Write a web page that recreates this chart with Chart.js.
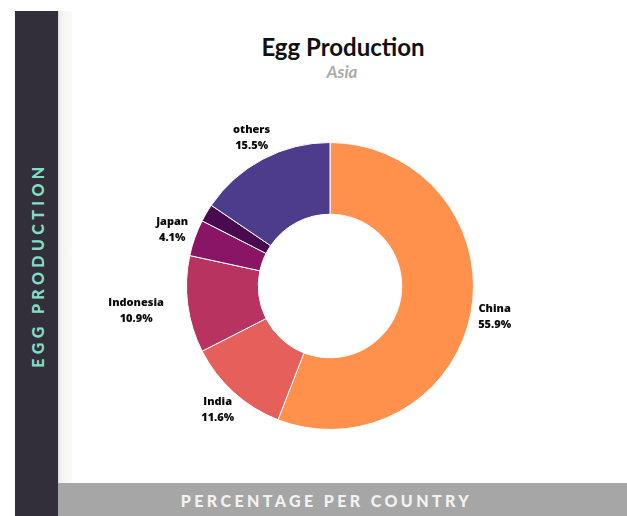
<!DOCTYPE html>
<html>
<head>
<meta charset="utf-8">
<script src="https://cdn.jsdelivr.net/npm/chart.js@4/dist/chart.umd.min.js"></script>
<style>
  html, body { margin: 0; padding: 0; background: #fff; }
  body { width: 627px; height: 516px; position: relative; overflow: hidden; font-family: "Lato", sans-serif; }
  .side { position: absolute; left: 15px; top: 11px; width: 43px; height: 505px; background: #332f3a; }
  .side span {
    position: absolute; left: 50%; top: 254px; transform: translate(-50%, -50%) rotate(-90deg);
    white-space: nowrap; color: #84dec4; font-weight: 900; font-size: 16px; letter-spacing: 4.4px;
  }
  .strip { position: absolute; left: 58px; top: 11px; width: 14px; height: 472px;
    background: linear-gradient(to right, #c9c9c9 0, #ededeb 1px, #f6f5f3 6px, #fbfbfa 14px); }
  .bottom { position: absolute; left: 58px; top: 483px; width: 537px; padding-right: 32px; height: 33px; background: #a6a6a6;
    color: #f2f2f2; font-weight: 900; font-size: 16px; letter-spacing: 3.4px; text-align: center; line-height: 36px; }
  .title { position: absolute; left: 0; width: 686px; top: 32px; text-align: center;
    font-weight: 700; font-size: 24px; color: #111; }
  .sub { position: absolute; left: 0; width: 684px; top: 61px; text-align: center;
    font-weight: 700; font-style: italic; font-size: 17px; color: #ababab; }
  .wrap { position: absolute; left: 60px; top: 90px; width: 540px; height: 392px; }
</style>
</head>
<body>
<div class="side"><span>EGG PRODUCTION</span></div>
<div class="strip"></div>
<div class="bottom">PERCENTAGE PER COUNTRY</div>
<div class="title">Egg Production</div>
<div class="sub">Asia</div>
<div class="wrap"><canvas id="grafico"></canvas></div>
<script>
// participação na produção de ovos (Ásia)
const paises = ["China", "India", "Indonesia", "Japan", "", "others"];
const percentuais = [55.9, 11.6, 10.9, 4.1, 2.0, 15.5];
const cores = ["#ff914d", "#e5605a", "#b83360", "#8a1566", "#4a0a4f", "#4d3b8c"];

// rótulos fora das fatias
const rotulosExternos = {
  id: "rotulosExternos",
  afterDatasetsDraw(chart, args, opts) {
    const ctx = chart.ctx;
    const arcos = chart.getDatasetMeta(0).data;
    ctx.save();
    ctx.font = "800 11px 'Open Sans'";
    ctx.fillStyle = "#0a0a0a";
    ctx.textAlign = "center";
    ctx.textBaseline = "middle";
    arcos.forEach(function (arco, i) {
      if (!paises[i]) return;
      const p = arco.getProps(["x", "y", "startAngle", "endAngle", "outerRadius"], true);
      const meio = (p.startAngle + p.endAngle) / 2;
      const r = p.outerRadius + opts.pad[i];
      const x = p.x + Math.cos(meio) * r;
      const y = p.y + Math.sin(meio) * r;
      ctx.fillText(paises[i], x, y - 8);
      ctx.fillText(percentuais[i].toFixed(1) + "%", x, y + 8);
    });
    ctx.restore();
  },
};

new Chart(document.getElementById("grafico"), {
  type: "doughnut",
  data: {
    labels: paises,
    datasets: [
      {
        data: percentuais,
        backgroundColor: cores,
        borderColor: "#ffffff",
        borderWidth: 1,
      },
    ],
  },
  options: {
    responsive: true,
    maintainAspectRatio: false,
    animation: false,
    cutout: "50%",
    layout: { padding: 52 },
    plugins: {
      legend: { display: false },
      tooltip: { enabled: false },
      rotulosExternos: { pad: [24, 24, 52, 24, 24, 24] },
    },
  },
  plugins: [rotulosExternos],
});
</script>
</body>
</html>
